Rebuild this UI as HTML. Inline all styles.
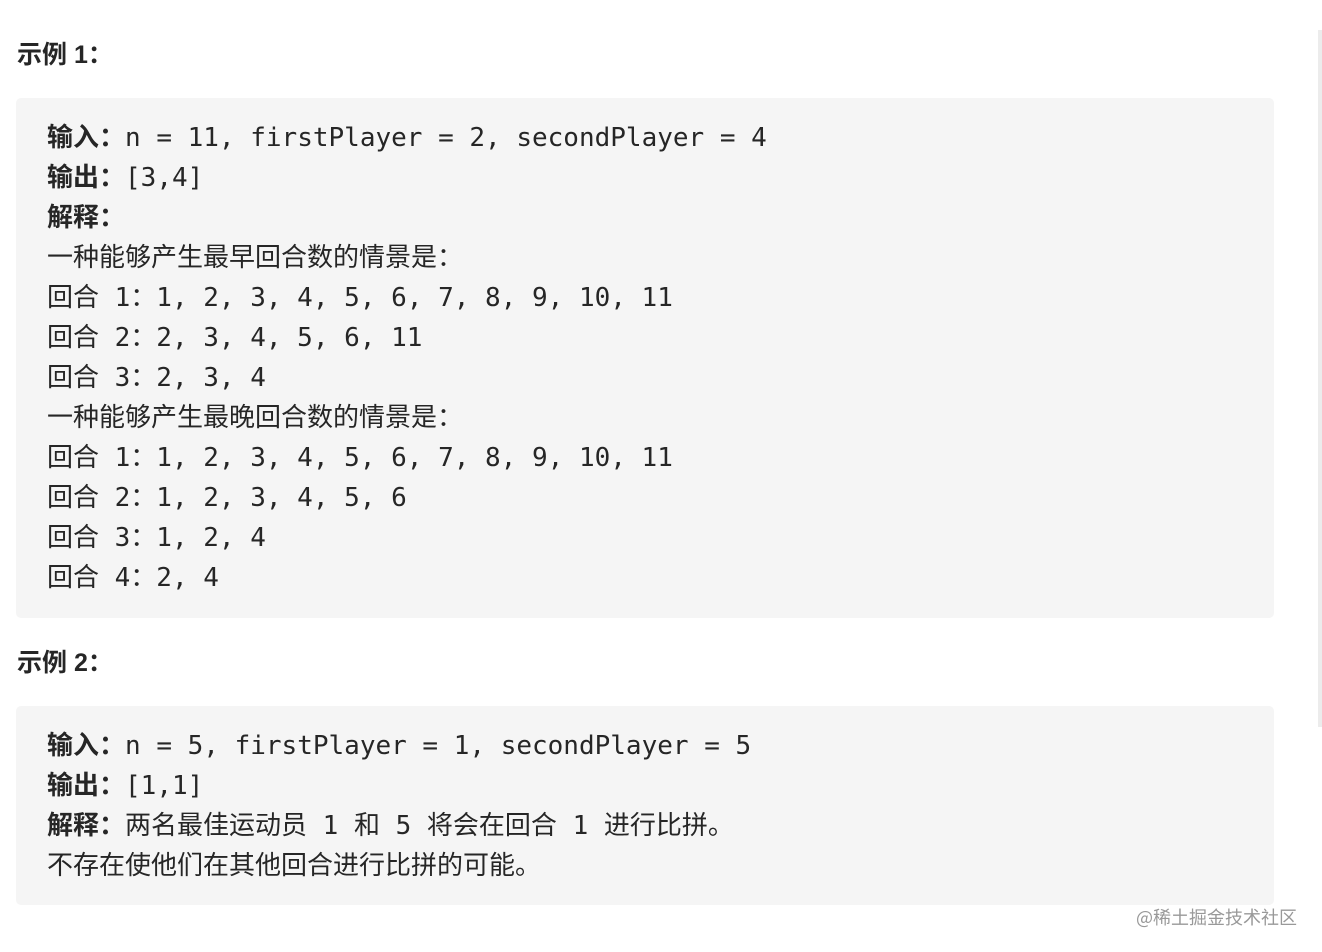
<!DOCTYPE html>
<html><head><meta charset="utf-8"><style>
body{margin:0;width:1322px;height:952px;background:#fff;position:relative;overflow:hidden;color:#262626}
.h{position:absolute;left:17px;font:bold 25px "Liberation Sans","Noto Sans CJK SC",sans-serif;line-height:30px}
.blk{position:absolute;left:16px;width:1258px;background:#f5f5f5;border-radius:5px}
.l{position:absolute;left:47px;font-family:"DejaVu Sans Mono","Liberation Mono","Noto Sans CJK SC",monospace;font-size:26px;line-height:40px;white-space:pre;height:40px}
b{font-weight:bold}
.bar{position:absolute;left:1318px;top:30px;width:4px;height:697px;background:#ececec}
.wm{position:absolute;left:1136px;top:904px;font:18px "Noto Sans CJK SC",sans-serif;color:#999}
</style></head><body>
<div class="bar"></div>
<div class="h" style="top:40px">示例 1：</div>
<div class="blk" style="top:98px;height:520px"></div>
<div class="l" style="top:118px"><b>输入：</b>n = 11, firstPlayer = 2, secondPlayer = 4</div>
<div class="l" style="top:158px"><b>输出：</b>[3,4]</div>
<div class="l" style="top:198px"><b>解释：</b></div>
<div class="l" style="top:238px">一种能够产生最早回合数的情景是：</div>
<div class="l" style="top:278px">回合 1：1, 2, 3, 4, 5, 6, 7, 8, 9, 10, 11</div>
<div class="l" style="top:318px">回合 2：2, 3, 4, 5, 6, 11</div>
<div class="l" style="top:358px">回合 3：2, 3, 4</div>
<div class="l" style="top:398px">一种能够产生最晚回合数的情景是：</div>
<div class="l" style="top:438px">回合 1：1, 2, 3, 4, 5, 6, 7, 8, 9, 10, 11</div>
<div class="l" style="top:478px">回合 2：1, 2, 3, 4, 5, 6</div>
<div class="l" style="top:518px">回合 3：1, 2, 4</div>
<div class="l" style="top:558px">回合 4：2, 4</div>
<div class="h" style="top:648px">示例 2：</div>
<div class="blk" style="top:706px;height:199px"></div>
<div class="l" style="top:726px"><b>输入：</b>n = 5, firstPlayer = 1, secondPlayer = 5</div>
<div class="l" style="top:766px"><b>输出：</b>[1,1]</div>
<div class="l" style="top:806px"><b>解释：</b>两名最佳运动员 1 和 5 将会在回合 1 进行比拼。</div>
<div class="l" style="top:846px">不存在使他们在其他回合进行比拼的可能。</div>
<div class="wm">@稀土掘金技术社区</div>
</body></html>
